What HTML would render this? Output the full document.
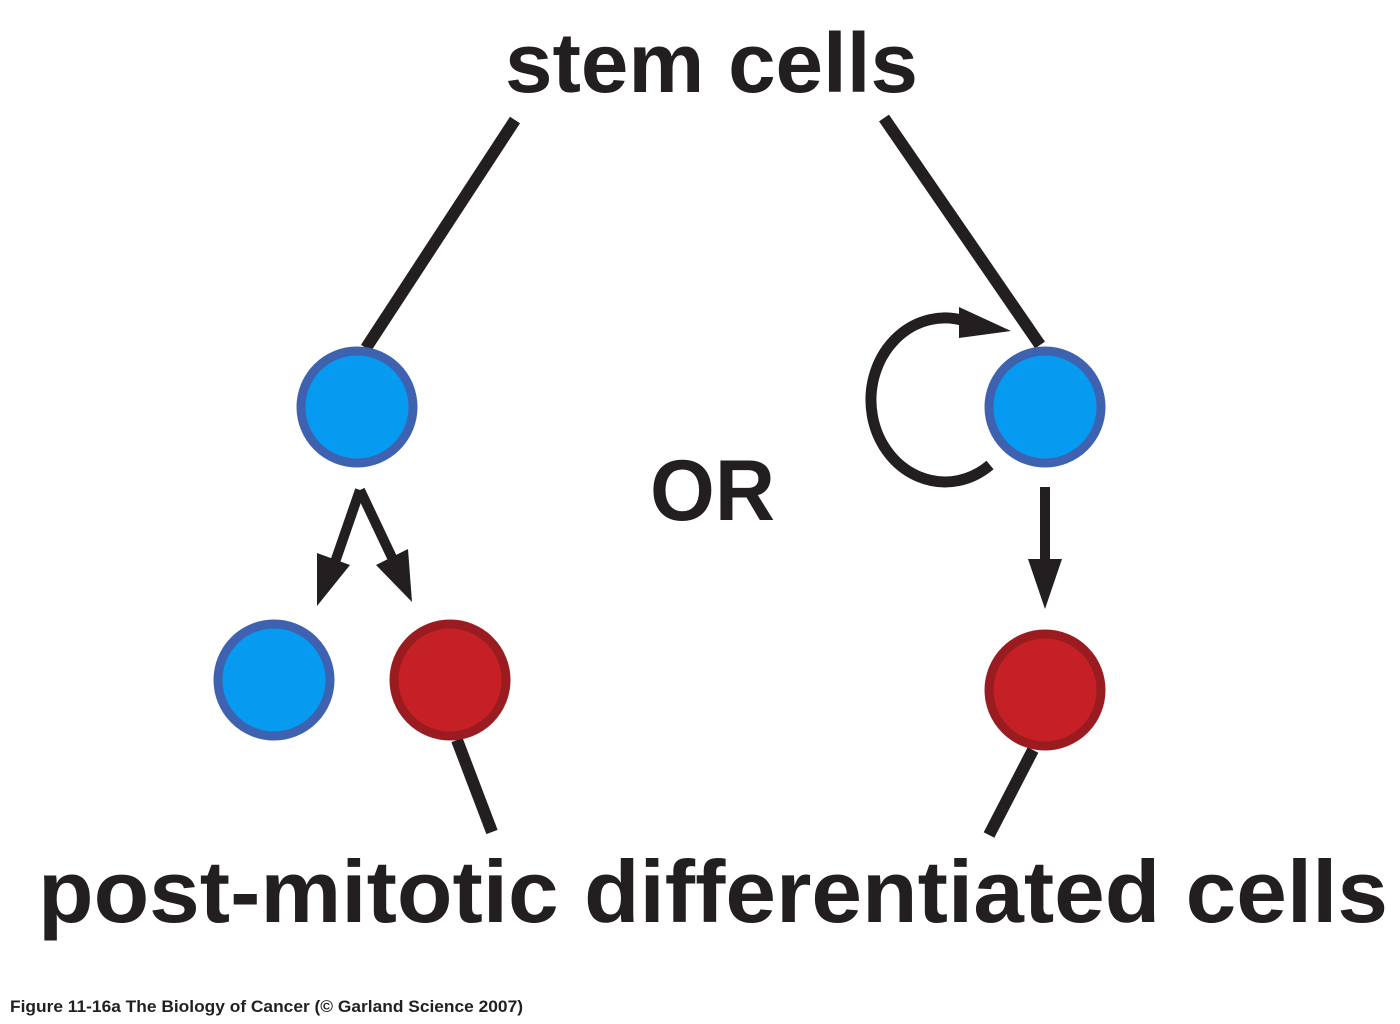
<!DOCTYPE html>
<html><head><style>html,body{margin:0;padding:0;background:#fff}</style></head>
<body>
<svg width="1400" height="1019" xmlns="http://www.w3.org/2000/svg">
<g font-family="Liberation Sans, sans-serif" font-weight="bold" fill="#231f20">
<text x="505" y="92" font-size="84" textLength="413" lengthAdjust="spacingAndGlyphs">stem cells</text>
<text x="650" y="520" font-size="86" textLength="125" lengthAdjust="spacingAndGlyphs">OR</text>
<text x="38" y="922" font-size="88" textLength="1350" lengthAdjust="spacingAndGlyphs">post-mitotic differentiated cells</text>
<text x="10" y="1012" font-size="17" textLength="513" lengthAdjust="spacingAndGlyphs">Figure 11-16a  The Biology of Cancer (© Garland Science 2007)</text>
</g>
<g stroke="#231f20" stroke-width="12" fill="none">
<line x1="515" y1="120" x2="366" y2="348"/>
<line x1="884" y1="118" x2="1040" y2="345"/>
<line x1="457" y1="740" x2="492" y2="832"/>
<line x1="1033" y1="750" x2="989" y2="835"/>
<line x1="360" y1="490" x2="334" y2="565" stroke-width="10"/>
<line x1="360" y1="490" x2="396" y2="566" stroke-width="10"/>
<line x1="1045" y1="487" x2="1045" y2="562" stroke-width="10"/>
<path d="M990 465 A74 82 0 1 1 965 321" stroke-width="11"/>
</g>
<g fill="#231f20">
<polygon points="317,606 317,553 350,565"/>
<polygon points="412,602 376,565 408,549"/>
<polygon points="1028,559 1062,559 1045,609"/>
<polygon points="959,307 1011,331 959,338"/>
</g>
<g stroke-width="9">
<circle cx="357" cy="407" r="56" fill="#069af0" stroke="#3e62b0"/>
<circle cx="1045" cy="407" r="56" fill="#069af0" stroke="#3e62b0"/>
<circle cx="274" cy="680" r="56" fill="#069af0" stroke="#3e62b0"/>
<circle cx="450" cy="680" r="56" fill="#c42026" stroke="#9b1c20"/>
<circle cx="1045" cy="690" r="56" fill="#c42026" stroke="#9b1c20"/>
</g>
</svg>
</body></html>
